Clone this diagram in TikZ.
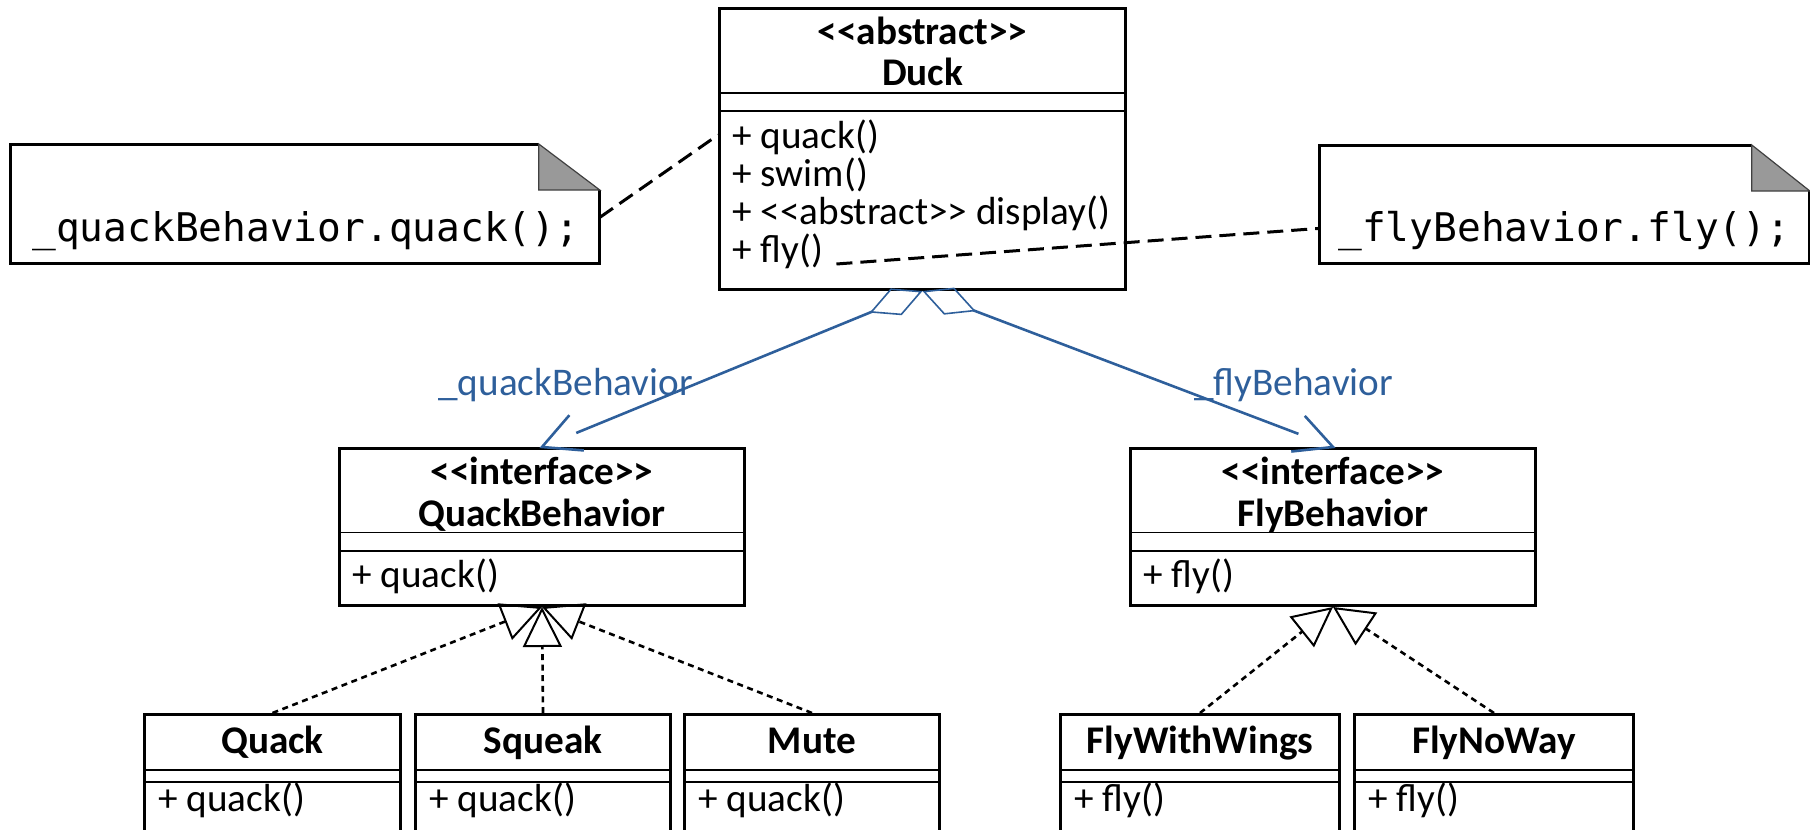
\documentclass[tikz,border=0pt]{standalone}
\usepackage{fontspec}
\setmainfont{Carlito}[Ligatures=TeXOff]
\newfontfamily\codefont{DejaVu Sans Mono}[Ligatures=TeXOff]
\usetikzlibrary{arrows.meta,calc}
\definecolor{assocblue}{RGB}{46,95,155}
\definecolor{foldgray}{RGB}{153,153,153}

\begin{document}
\begin{tikzpicture}[x=0.5pt,y=-0.5pt,
  classbox/.style={draw, line width=1.5pt, inner sep=0pt, anchor=north west},
  leafbox/.style={classbox, minimum height=85pt},
  compsep/.style={line width=0.7pt},
  classtitle/.style={font=\fontsize{19.6}{19.6}\selectfont\bfseries, anchor=base, inner sep=0pt},
  member/.style={font=\fontsize{19.6}{19.6}\selectfont, anchor=base west, inner sep=0pt},
  notebox/.style={inner sep=0pt, anchor=north west},
  noteborder/.style={line width=1.5pt, line join=miter},
  notefold/.style={fill=foldgray, draw=black!75, line width=0.6pt},
  notetext/.style={font=\codefont\fontsize{19.75}{19.75}\selectfont, anchor=base west, inner sep=0pt},
  noteline/.style={line width=1.5pt, dash pattern=on 8pt off 4pt},
  assoc/.style={draw=assocblue, line width=1.3pt},
  rolelabel/.style={text=assocblue, font=\fontsize{19.6}{19.6}\selectfont, anchor=base west, inner sep=0pt},
  realize/.style={line width=1.3pt, dash pattern=on 3pt off 2.3pt,
    -{Triangle[open, length=20pt, width=19.5pt, line width=1pt]}},
]
\useasboundingbox (0,0) rectangle (1810,830);
\clip (0,0) rectangle (1810,830);

% ---------- Duck ----------
\node[classbox, minimum width=203pt, minimum height=140.5pt] (duck) at (718,7) {};
\draw[compsep] ($(duck.north west)+(0,86)$) -- ($(duck.north east)+(0,86)$);
\draw[compsep] ($(duck.north west)+(0,104)$) -- ($(duck.north east)+(0,104)$);
\node[classtitle] (duckst) at ($(duck.north)+(0,37)$) {<<abstract>>};
\node[classtitle] (duckname) at ($(duck.north)+(0,78.5)$) {Duck};
\node[member] (dquack) at ($(duck.north west)+(14,141)$) {+ quack()};
\node[member] (dswim) at ($(duck.north west)+(14,179)$) {+ swim()};
\node[member] (ddisp) at ($(duck.north west)+(14,217)$) {+ <<abstract>> display()};
\node[member] (dfly) at ($(duck.north west)+(14,255)$) {+ fly()};

% ---------- QuackBehavior ----------
\node[classbox, minimum width=202.5pt, minimum height=78.5pt] (qb) at (338,447) {};
\draw[compsep] ($(qb.north west)+(0,85.5)$) -- ($(qb.north east)+(0,85.5)$);
\draw[compsep] ($(qb.north west)+(0,104)$) -- ($(qb.north east)+(0,104)$);
\node[classtitle] (qbst) at ($(qb.north)+(0,37.5)$) {<<interface>>};
\node[classtitle] (qbname) at ($(qb.north)+(0,79.5)$) {QuackBehavior};
\node[member] (qbquack) at ($(qb.north west)+(14,140.5)$) {+ quack()};

% ---------- FlyBehavior ----------
\node[classbox, minimum width=202.5pt, minimum height=78.5pt] (fb) at (1129,447) {};
\draw[compsep] ($(fb.north west)+(0,85.5)$) -- ($(fb.north east)+(0,85.5)$);
\draw[compsep] ($(fb.north west)+(0,104)$) -- ($(fb.north east)+(0,104)$);
\node[classtitle] (fbst) at ($(fb.north)+(0,37.5)$) {<<interface>>};
\node[classtitle] (fbname) at ($(fb.north)+(0,79.5)$) {FlyBehavior};
\node[member] (fbfly) at ($(fb.north west)+(14,140.5)$) {+ fly()};

% ---------- concrete behaviours ----------
\node[leafbox, minimum width=128pt] (quack) at (143,713) {};
\node[leafbox, minimum width=127.5pt] (squeak) at (414,713) {};
\node[leafbox, minimum width=127.5pt] (mute) at (683,713) {};
\node[leafbox, minimum width=139.5pt] (flywings) at (1059,713) {};
\node[leafbox, minimum width=139.5pt] (flynoway) at (1353,713) {};
\foreach \nm in {quack,squeak,mute,flywings,flynoway} {
  \draw[compsep] ($(\nm.north west)+(0,57)$) -- ($(\nm.north east)+(0,57)$);
  \draw[compsep] ($(\nm.north west)+(0,69)$) -- ($(\nm.north east)+(0,69)$);
}
\node[classtitle] (quackname) at ($(quack.north)+(0,40.5)$) {Quack};
\node[classtitle] (squeakname) at ($(squeak.north)+(0,40.5)$) {Squeak};
\node[classtitle] (mutename) at ($(mute.north)+(0,40.5)$) {Mute};
\node[classtitle] (flywingsname) at ($(flywings.north)+(0,40.5)$) {FlyWithWings};
\node[classtitle] (flynowayname) at ($(flynoway.north)+(0,40.5)$) {FlyNoWay};
\node[member] (quackop) at ($(quack.north west)+(15,98)$) {+ quack()};
\node[member] (squeakop) at ($(squeak.north west)+(15,98)$) {+ quack()};
\node[member] (muteop) at ($(mute.north west)+(15,98)$) {+ quack()};
\node[member] (flywingsop) at ($(flywings.north west)+(15,98)$) {+ fly()};
\node[member] (flynowayop) at ($(flynoway.north west)+(15,98)$) {+ fly()};

% ---------- notes ----------
\node[notebox, minimum width=294.5pt, minimum height=59.5pt] (qnote) at (10,144) {};
\draw[noteborder] ($(qnote.north east)+(-61,0)$) -- (qnote.north west) -- (qnote.south west)
  -- (qnote.south east) -- ($(qnote.north east)+(0,46)$);
\draw[notefold] ($(qnote.north east)+(-61,0)$) -- ($(qnote.north east)+(-61,46)$)
  -- ($(qnote.north east)+(0,46)$) -- cycle;
\node[notetext] (qcode) at ($(qnote.north west)+(22,97)$) {\_quackBehavior.quack();};

\node[notebox, minimum width=245pt, minimum height=59pt] (fnote) at (1319,145) {};
\draw[noteborder] ($(fnote.north east)+(-58,0)$) -- (fnote.north west) -- (fnote.south west)
  -- (fnote.south east) -- ($(fnote.north east)+(0,46)$);
\draw[notefold] ($(fnote.north east)+(-58,0)$) -- ($(fnote.north east)+(-58,46)$)
  -- ($(fnote.north east)+(0,46)$) -- cycle;
\node[notetext] (fcode) at ($(fnote.north west)+(19,96)$) {\_flyBehavior.fly();};

% note anchors
\draw[noteline] ($(qnote.east)+(0,13.5)$) -- ($(duck.west)+(0,-14)$);
\draw[noteline] ($(dfly.base east)+(13,2)$) -- ($(fnote.west)+(0,24)$);

% ---------- aggregations ----------
\draw[assoc, {Diamond[open, length=28.5pt, width=14.5pt, line width=0.8pt]}-, shorten >=18.5pt]
  (duck.south) -- (qb.north);
\draw[assoc] ($(qb.north)!21pt!27:(duck.south)$) -- (qb.north) -- ($(qb.north)!21pt!-27:(duck.south)$);
\draw[assoc, {Diamond[open, length=28.5pt, width=14.5pt, line width=0.8pt]}-, shorten >=18.5pt]
  (duck.south) -- (fb.north);
\draw[assoc] ($(fb.north)!21pt!27:(duck.south)$) -- (fb.north) -- ($(fb.north)!21pt!-27:(duck.south)$);
\node[rolelabel] (qrole) at (438,395) {\_quackBehavior};
\node[rolelabel] (frole) at (1194,395) {\_flyBehavior};

% ---------- realizations ----------
\draw[realize] (quack.north) -- (qb.south);
\draw[realize] (squeak.north) -- (qb.south);
\draw[realize] (mute.north) -- (qb.south);
\draw[realize] (flywings.north) -- (fb.south);
\draw[realize] (flynoway.north) -- (fb.south);
\end{tikzpicture}
\end{document}
